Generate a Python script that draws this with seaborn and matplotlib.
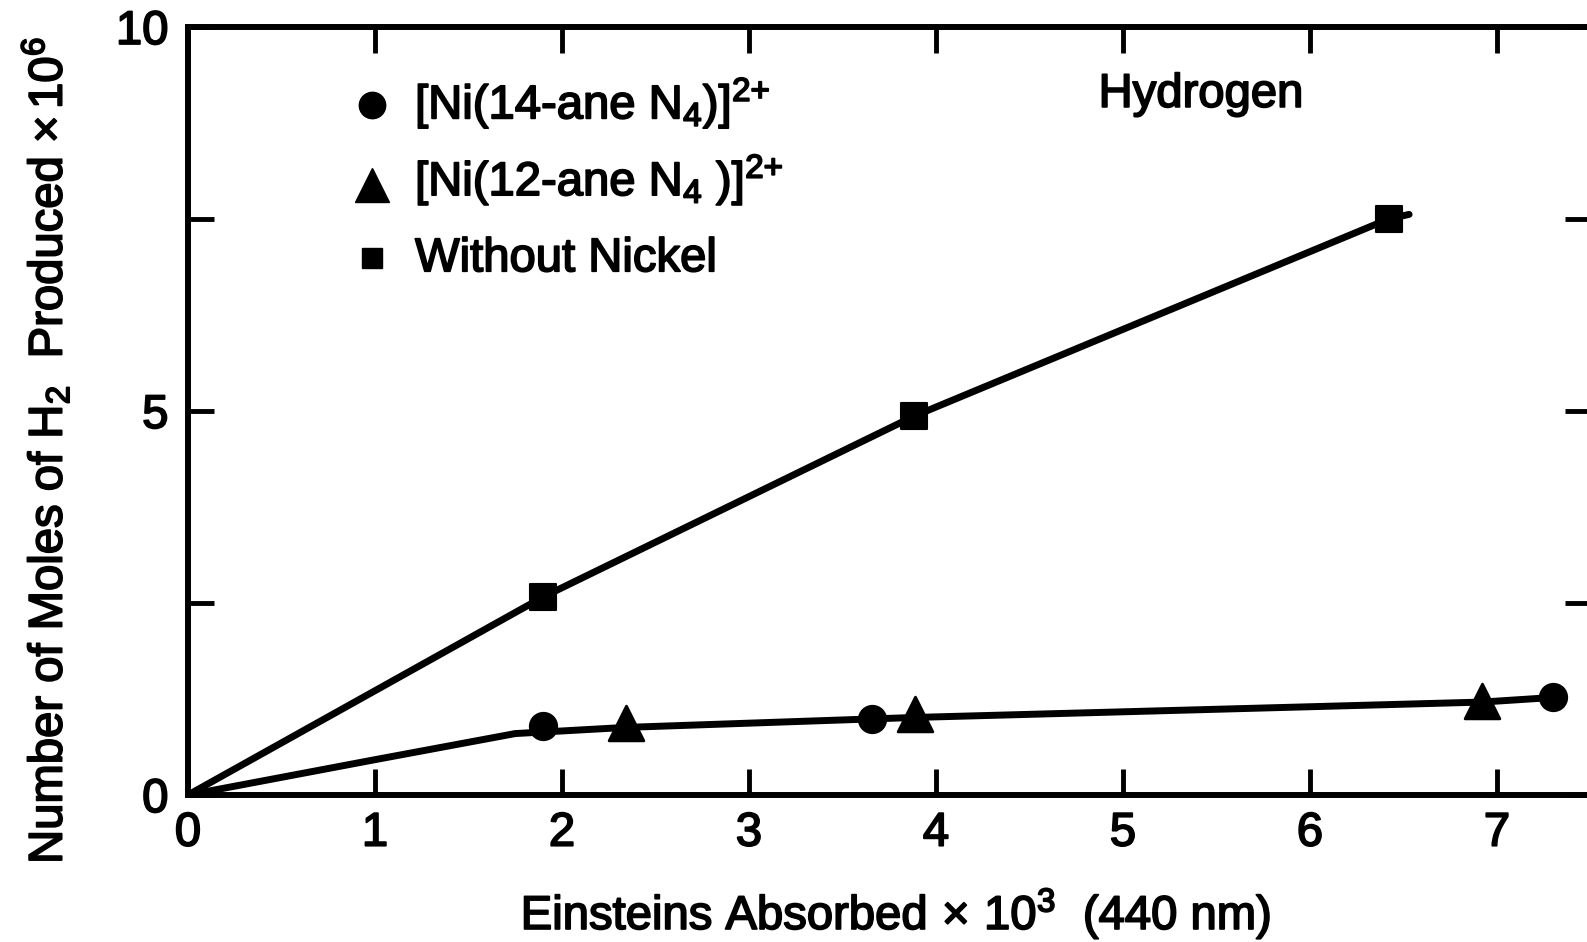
import matplotlib
matplotlib.use("Agg")
import matplotlib.pyplot as plt
import matplotlib.patheffects as pe
import seaborn as sns
import pandas as pd

# ---- data ----
ni14_x = [1.90, 3.66, 7.30]
ni14_y = [0.90, 0.99, 1.27]
ni12_x = [2.34, 3.89, 6.92]
ni12_y = [0.94, 1.05, 1.23]
noni_x = [1.90, 3.88, 6.42]
noni_y = [2.58, 4.93, 7.50]

# drawn smooth curves
ni_curve_x = [0.0, 1.0, 1.75, 2.34, 3.89, 6.92, 7.30]
ni_curve_y = [0.0, 0.46, 0.80, 0.88, 1.01, 1.21, 1.27]
noni_curve_x = [0.0, 1.90, 3.88, 6.42, 6.53]
noni_curve_y = [0.0, 2.58, 4.93, 7.50, 7.56]

x_ticks = [0, 1, 2, 3, 4, 5, 6, 7]
y_ticks = [0, 2.5, 5, 7.5, 10]
y_ticklabels = ["0", "", "5", "", "10"]

legend_labels = [r"[Ni(14-ane N$_{4}$)]$^{2{+}}$",
                 r"[Ni(12-ane N$_{4}$ )]$^{2{+}}$",
                 "Without Nickel"]

sns.set_theme(style="ticks")
plt.rcParams["font.family"] = ["Liberation Sans", "DejaVu Sans"]
plt.rcParams["mathtext.fontset"] = "custom"
plt.rcParams["mathtext.rm"] = "Liberation Sans"
plt.rcParams["mathtext.it"] = "Liberation Sans:italic"
plt.rcParams["mathtext.bf"] = "Liberation Sans:bold"

FS = 34
heavy = [pe.withStroke(linewidth=1.3, foreground="black")]

fig = plt.figure(figsize=(15.87, 9.42), dpi=100)
ax = fig.add_axes([188 / 1587, 147 / 942, 1402.5 / 1587, 768 / 942])

pts = pd.DataFrame({
    "x": ni14_x + ni12_x + noni_x,
    "y": ni14_y + ni12_y + noni_y,
    "series": ["c"] * 3 + ["t"] * 3 + ["s"] * 3,
})
curves = pd.DataFrame({
    "x": ni_curve_x + noni_curve_x,
    "y": ni_curve_y + noni_curve_y,
    "curve": ["ni"] * len(ni_curve_x) + ["noni"] * len(noni_curve_x),
})

sns.lineplot(data=curves, x="x", y="y", units="curve", estimator=None,
             sort=False, color="black", lw=5.0, ax=ax, legend=False)

sns.scatterplot(data=pts[pts.series == "c"], x="x", y="y", marker="o",
                s=19.5 ** 2, color="black", edgecolor="black", ax=ax,
                legend=False, zorder=5, clip_on=False)
sns.scatterplot(data=pts[pts.series == "t"], x="x", y="y", marker="^",
                s=25 ** 2, color="black", edgecolor="black", ax=ax,
                legend=False, zorder=5, clip_on=False)
sns.scatterplot(data=pts[pts.series == "s"], x="x", y="y", marker="s",
                s=19 ** 2, color="black", edgecolor="black", ax=ax,
                legend=False, zorder=5, clip_on=False)

ax.set_xlim(0, 7.5)
ax.set_ylim(0, 10)
ax.set_xticks(x_ticks)
ax.set_xticklabels([str(t) for t in x_ticks])
ax.set_yticks(y_ticks)
ax.set_yticklabels(y_ticklabels)
ax.tick_params(direction="in", length=19, width=3.5, colors="black",
               labelsize=FS, top=True, right=True, labelcolor="black")
ax.tick_params(axis="x", pad=12)
ax.tick_params(axis="y", pad=14)
for lbl in ax.get_xticklabels() + ax.get_yticklabels():
    lbl.set_path_effects(heavy)
for sp in ax.spines.values():
    sp.set_visible(True)
    sp.set_linewidth(4.3)
    sp.set_color("black")
ax.set_xlabel("")
ax.set_ylabel("")
ax.set_facecolor("white")

# legend drawn inside the axes
mk_x = 0.1312
tx_x = 0.1619
ax.plot([mk_x], [0.8984], "o", ms=19, color="black", transform=ax.transAxes, clip_on=False)
ax.plot([mk_x], [0.794], "^", ms=25, color="black", transform=ax.transAxes, clip_on=False)
ax.plot([mk_x], [0.699], "s", ms=15, color="black", transform=ax.transAxes, clip_on=False)
for lab, yb in zip(legend_labels, [0.881, 0.781, 0.682]):
    ax.text(tx_x, yb, lab, transform=ax.transAxes, fontsize=FS,
            ha="left", va="baseline", color="black", path_effects=heavy)

ax.text(0.7223, 0.896, "Hydrogen", transform=ax.transAxes, fontsize=FS,
        ha="center", va="baseline", color="black", path_effects=heavy)

fig.text(45.5 / 1587, 0.522, r"Number of Moles of H$_{2}$  Produced $\times\,$10$^{6}$",
         rotation=90, ha="center", va="center", fontsize=FS, color="black",
         path_effects=heavy)
fig.text(896 / 1587, 13 / 942, r"Einsteins Absorbed$\,\times\,$10$^{3}$  (440 nm)",
         ha="center", va="baseline", fontsize=FS, color="black", path_effects=heavy)

fig.savefig("out.png", dpi=100, facecolor="white")
